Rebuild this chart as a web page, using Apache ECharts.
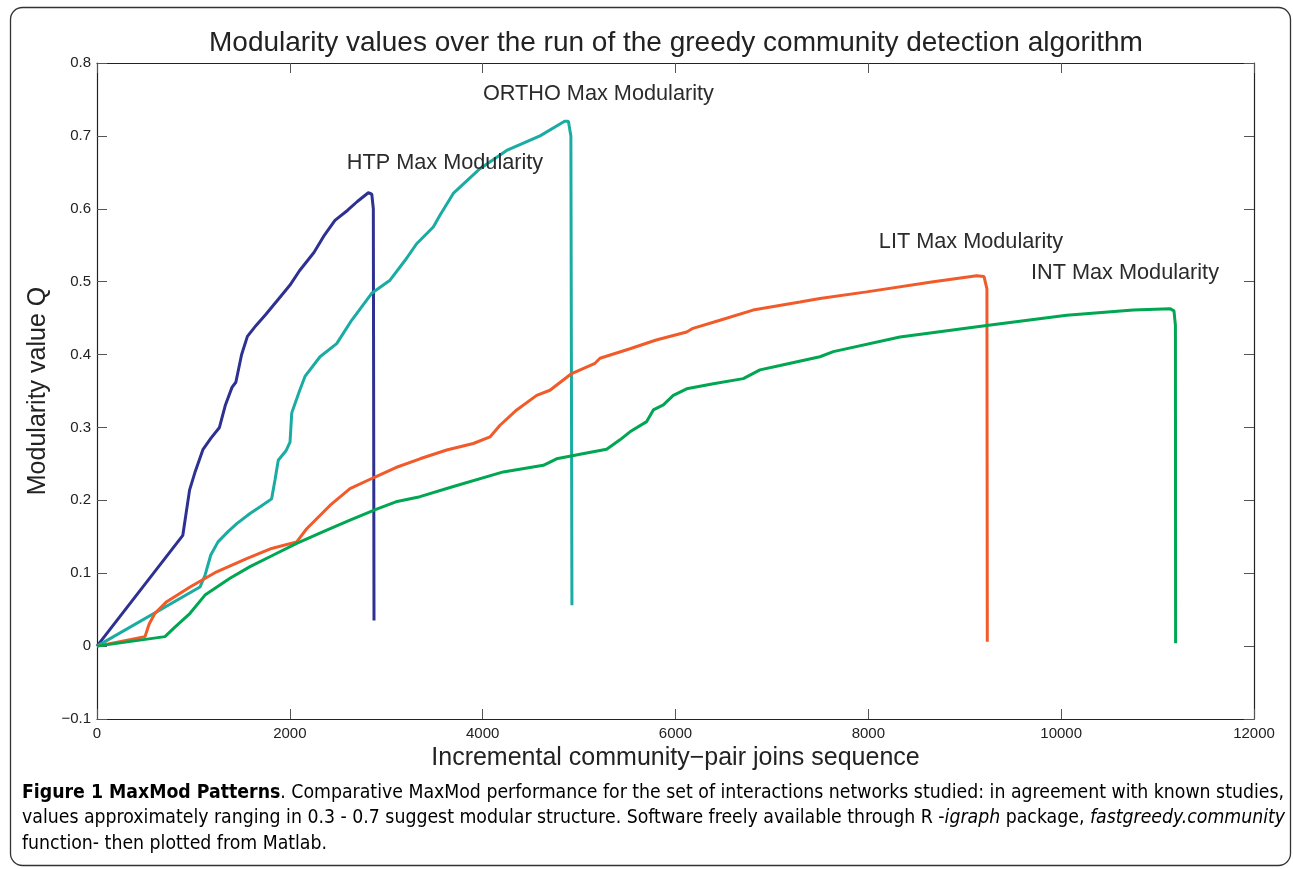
<!DOCTYPE html>
<html>
<head>
<meta charset="utf-8">
<script src="https://cdn.jsdelivr.net/npm/echarts@6/dist/echarts.min.js"></script>
<style>
  html, body { margin: 0; padding: 0; background: #fff; }
  #chart { width: 1293px; height: 869px; }
</style>
</head>
<body>
<div id="chart"></div>
<script>
  // values: [join step, Q]
  const htp = [[0,0],[890,0.152],[960,0.214],[1020,0.24],[1100,0.27],[1180,0.285],[1270,0.30],[1330,0.33],[1400,0.355],[1440,0.362],[1500,0.40],[1560,0.425],[1650,0.44],[1750,0.455],[1900,0.479],[2000,0.495],[2100,0.515],[2250,0.54],[2350,0.562],[2468,0.584],[2600,0.598],[2700,0.61],[2814,0.622],[2850,0.62],[2866,0.60],[2873,0.035]];
  const ortho = [[0,0],[1068,0.081],[1120,0.097],[1180,0.125],[1255,0.143],[1359,0.157],[1450,0.168],[1587,0.182],[1700,0.192],[1811,0.202],[1846,0.228],[1880,0.255],[1960,0.268],[2002,0.28],[2020,0.32],[2054,0.333],[2100,0.35],[2157,0.37],[2313,0.397],[2486,0.415],[2641,0.447],[2849,0.484],[3039,0.502],[3194,0.529],[3315,0.552],[3488,0.575],[3557,0.591],[3695,0.621],[3972,0.655],[4249,0.68],[4595,0.70],[4850,0.72],[4889,0.72],[4915,0.70],[4926,0.056]];
  const lit = [[0,0],[498,0.013],[540,0.03],[601,0.045],[723,0.061],[965,0.081],[1241,0.102],[1552,0.12],[1811,0.134],[2071,0.143],[2175,0.161],[2416,0.193],[2624,0.216],[2883,0.232],[3100,0.245],[3350,0.257],[3627,0.269],[3903,0.278],[4076,0.287],[4180,0.303],[4353,0.324],[4560,0.344],[4698,0.351],[4923,0.374],[5165,0.388],[5217,0.395],[5528,0.408],[5800,0.42],[6116,0.431],[6181,0.436],[6461,0.447],[6804,0.461],[7291,0.472],[7498,0.477],[7982,0.486],[8674,0.5],[9124,0.508],[9200,0.507],[9230,0.49],[9234,0.006]];
  const int = [[0,0],[705,0.013],[800,0.025],[965,0.045],[1120,0.07],[1379,0.093],[1587,0.109],[1829,0.125],[2071,0.141],[2347,0.157],[2624,0.173],[2900,0.188],[3100,0.198],[3350,0.205],[3696,0.219],[4214,0.239],[4629,0.248],[4767,0.257],[5078,0.265],[5286,0.27],[5424,0.283],[5528,0.294],[5701,0.308],[5770,0.324],[5874,0.331],[5977,0.344],[6116,0.353],[6392,0.36],[6703,0.367],[6876,0.379],[7084,0.385],[7498,0.397],[7637,0.404],[8328,0.424],[9227,0.44],[10057,0.454],[10748,0.461],[11128,0.463],[11170,0.46],[11185,0.44],[11187,0.004]];

  // annotation anchors (data coords)
  const labelNames = ['HTP Max Modularity', 'ORTHO Max Modularity', 'LIT Max Modularity', 'INT Max Modularity'];
  const labelCoords = [[3609, 0.663], [5200, 0.757], [9065, 0.554], [10662, 0.512]];

  const colors = ['#2e3192', '#1aaca2', '#f15a29', '#00a651'];

  const myChart = echarts.init(document.getElementById('chart'));

  function mkLine(name, data, color, idx) {
    return {
      type: 'line',
      name: name,
      data: data,
      showSymbol: false,
      symbol: 'none',
      smooth: false,
      lineStyle: { color: color, width: 3 },
      z: 3,
      markPoint: {
        symbol: 'circle',
        symbolSize: 0,
        silent: true,
        data: [{
          coord: labelCoords[idx],
          label: {
            show: true,
            formatter: labelNames[idx],
            color: '#2b2b2b',
            fontSize: 21.7,
            fontFamily: 'Liberation Sans, Arial, sans-serif'
          }
        }]
      }
    };
  }

  const font = 'Liberation Sans, Arial, sans-serif';
  const axisFont = { fontFamily: font, fontSize: 15, color: '#222' };
  const boxLine = { show: true, onZero: false, lineStyle: { color: '#222', width: 1.2 } };
  const boxTick = { show: true, inside: true, length: 10, lineStyle: { color: '#555' } };

  myChart.setOption({
    animation: false,
    title: {
      text: 'Modularity values over the run of the greedy community detection algorithm',
      left: 204,
      top: 24,
      textStyle: { fontFamily: font, fontSize: 28, fontWeight: 'normal', color: '#222' }
    },
    grid: { left: 97, top: 63, right: 39, bottom: 150 },
    xAxis: [{
      type: 'value',
      min: 0, max: 12000, interval: 2000,
      name: 'Incremental community\u2212pair joins sequence',
      nameLocation: 'middle',
      nameGap: 23,
      nameTextStyle: { fontFamily: font, fontSize: 25, color: '#222' },
      axisLine: boxLine,
      axisTick: boxTick,
      axisLabel: Object.assign({ margin: 7, formatter: function (v) { return String(v); } }, axisFont),
      splitLine: { show: false }
    }, {
      type: 'value',
      position: 'top',
      min: 0, max: 12000, interval: 2000,
      axisLine: boxLine,
      axisTick: boxTick,
      axisLabel: { show: false },
      splitLine: { show: false }
    }],
    yAxis: [{
      type: 'value',
      min: -0.1, max: 0.8, interval: 0.1,
      name: 'Modularity value Q',
      nameLocation: 'middle',
      nameGap: 41,
      nameTextStyle: { fontFamily: font, fontSize: 25, color: '#222' },
      axisLine: boxLine,
      axisTick: boxTick,
      axisLabel: Object.assign({
        margin: 6,
        formatter: function (v) {
          const r = Math.round(v * 10) / 10;
          if (r === 0) return '0';
          return r < 0 ? '\u2212' + Math.abs(r) : String(r);
        }
      }, axisFont),
      splitLine: { show: false }
    }, {
      type: 'value',
      position: 'right',
      min: -0.1, max: 0.8, interval: 0.1,
      axisLine: boxLine,
      axisTick: boxTick,
      axisLabel: { show: false },
      splitLine: { show: false }
    }],
    series: [
      mkLine('HTP', htp, colors[0], 0),
      mkLine('ORTHO', ortho, colors[1], 1),
      mkLine('LIT', lit, colors[2], 2),
      mkLine('INT', int, colors[3], 3)
    ],
    graphic: [
      {
        type: 'rect',
        shape: { x: 10.5, y: 7.5, width: 1280, height: 858, r: 12 },
        style: { fill: 'none', stroke: '#333', lineWidth: 1.3 },
        silent: true
      },
      {
        type: 'text',
        left: 22,
        top: 783,
        style: {
          text: '{b|Figure 1 MaxMod Patterns}{n|. Comparative MaxMod performance for the set of interactions networks studied: in agreement with known studies,}\n' +
                '{n|values approximately ranging in 0.3 - 0.7 suggest modular structure. Software freely available through R -}{i|igraph}{n| package, }{i|fastgreedy.community}\n' +
                '{n|function- then plotted from Matlab.}',
          rich: {
            b: { fontFamily: 'Liberation Sans Narrow, DejaVu Sans Condensed, sans-serif', fontWeight: 'bold', fontSize: 19.3, color: '#1a1a1a', lineHeight: 25.5 },
            n: { fontFamily: 'Liberation Sans Narrow, DejaVu Sans Condensed, sans-serif', fontSize: 19.3, color: '#1a1a1a', lineHeight: 25.5 },
            i: { fontFamily: 'Liberation Sans Narrow, DejaVu Sans Condensed, sans-serif', fontStyle: 'italic', fontSize: 19.3, color: '#1a1a1a', lineHeight: 25.5 }
          }
        }
      }
    ]
  });
</script>
</body>
</html>
